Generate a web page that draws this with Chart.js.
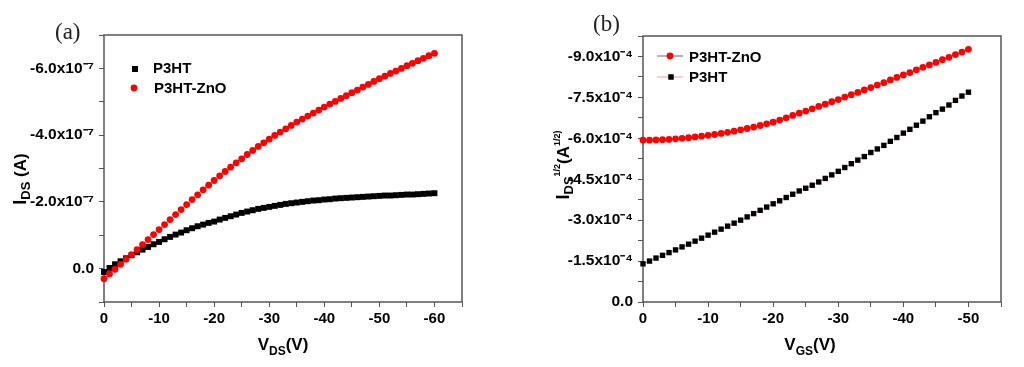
<!DOCTYPE html>
<html>
<head>
<meta charset="utf-8">
<script src="https://cdn.jsdelivr.net/npm/chart.js@4.4.1/dist/chart.umd.min.js"></script>
<style>
  body { margin: 0; background: #fff; }
  #wrap { position: relative; width: 1024px; height: 367px; background: #fff; }
  canvas { position: absolute; top: 0; }
</style>
</head>
<body>
<div id="wrap">
  <canvas id="chartA" width="512" height="367" style="left:0"></canvas>
  <canvas id="chartB" width="512" height="367" style="left:512px"></canvas>
</div>
<script>
// (a) output curves, V_DS in volts, I_DS in units of 1e-7 A
const vds = [0, -1, -2, -3, -4, -5, -6, -7, -8, -9, -10, -11, -12, -13, -14, -15, -16, -17, -18, -19, -20,
  -21, -22, -23, -24, -25, -26, -27, -28, -29, -30, -31, -32, -33, -34, -35, -36, -37, -38, -39, -40,
  -41, -42, -43, -44, -45, -46, -47, -48, -49, -50, -51, -52, -53, -54, -55, -56, -57, -58, -59, -60];
const idsP3HT = [0.10, -0.02, -0.13, -0.22, -0.31, -0.40, -0.49, -0.57, -0.65, -0.73, -0.80,
  -0.88, -0.95, -1.02, -1.08, -1.15, -1.21, -1.27, -1.32, -1.37, -1.41,
  -1.47, -1.52, -1.57, -1.62, -1.67, -1.71, -1.75, -1.79, -1.82, -1.85,
  -1.88, -1.91, -1.94, -1.96, -1.98, -2.00, -2.02, -2.04, -2.05, -2.07,
  -2.08, -2.10, -2.11, -2.12, -2.13, -2.14, -2.15, -2.16, -2.17, -2.18,
  -2.19, -2.19, -2.20, -2.21, -2.22, -2.22, -2.23, -2.24, -2.25, -2.26];
const idsZnO = [0.30, 0.16, 0.02, -0.13, -0.28, -0.42, -0.57, -0.72, -0.87, -1.02, -1.17,
  -1.32, -1.47, -1.62, -1.77, -1.92, -2.07, -2.21, -2.36, -2.50, -2.64,
  -2.78, -2.91, -3.04, -3.17, -3.29, -3.42, -3.54, -3.66, -3.77, -3.88,
  -3.99, -4.09, -4.19, -4.29, -4.39, -4.48, -4.57, -4.66, -4.75, -4.84,
  -4.93, -5.01, -5.10, -5.18, -5.27, -5.35, -5.44, -5.52, -5.61, -5.69,
  -5.77, -5.85, -5.92, -6.00, -6.08, -6.15, -6.23, -6.30, -6.38, -6.45];

// (b) transfer curves, V_GS in volts, sqrt(I_DS) in units of 1e-4
const vgs = [0, -1, -2, -3, -4, -5, -6, -7, -8, -9, -10, -11, -12, -13, -14, -15, -16, -17, -18, -19, -20,
  -21, -22, -23, -24, -25, -26, -27, -28, -29, -30, -31, -32, -33, -34, -35, -36, -37, -38, -39, -40,
  -41, -42, -43, -44, -45, -46, -47, -48, -49, -50];
const sqrtZnO = [-5.93, -5.93, -5.94, -5.95, -5.96, -5.98, -6.00, -6.02, -6.05, -6.08, -6.11,
  -6.14, -6.18, -6.22, -6.26, -6.31, -6.36, -6.41, -6.47, -6.53, -6.59,
  -6.67, -6.75, -6.84, -6.92, -7.00, -7.08, -7.17, -7.25, -7.34, -7.42,
  -7.51, -7.60, -7.68, -7.77, -7.86, -7.95, -8.04, -8.14, -8.23, -8.32,
  -8.41, -8.51, -8.60, -8.69, -8.78, -8.88, -8.97, -9.07, -9.16, -9.26];
const sqrtP3HT = [-1.40, -1.50, -1.61, -1.71, -1.81, -1.91, -2.02, -2.12, -2.23, -2.34, -2.45,
  -2.56, -2.67, -2.78, -2.89, -3.00, -3.12, -3.24, -3.36, -3.48, -3.60,
  -3.71, -3.83, -3.95, -4.07, -4.17, -4.28, -4.40, -4.53, -4.66, -4.79,
  -4.93, -5.07, -5.20, -5.33, -5.48, -5.61, -5.74, -5.89, -6.03, -6.19,
  -6.33, -6.48, -6.63, -6.79, -6.94, -7.07, -7.22, -7.39, -7.55, -7.69];

const FONT = '"Liberation Sans", Arial, Helvetica, sans-serif';
const AXIS = '#555555';

function pts(xs, ys) {
  return xs.map((x, i) => ({ x: x, y: ys[i] }));
}

// text with sub/superscripts, parts = [text, size, dy]
function drawParts(ctx, parts, x, y, angle) {
  ctx.save();
  ctx.translate(x, y);
  ctx.rotate(angle);
  ctx.fillStyle = '#000';
  ctx.textBaseline = 'alphabetic';
  let total = 0;
  parts.forEach(p => {
    ctx.font = 'bold ' + p[1] + 'px ' + FONT;
    total += ctx.measureText(p[0]).width;
  });
  let cx = -total / 2;
  parts.forEach(p => {
    ctx.font = 'bold ' + p[1] + 'px ' + FONT;
    ctx.fillText(p[0], cx, p[2]);
    cx += ctx.measureText(p[0]).width;
  });
  ctx.restore();
}

function square(ctx, x, y, side, color) {
  ctx.fillStyle = color;
  ctx.fillRect(x - side / 2, y - side / 2, side, side);
}

function dot(ctx, x, y, r, color) {
  ctx.fillStyle = color;
  ctx.beginPath();
  ctx.arc(x, y, r, 0, Math.PI * 2);
  ctx.fill();
}

// box round the plot, drawn under the points
const frame = {
  id: 'frame',
  beforeDatasetsDraw(chart) {
    const a = chart.chartArea;
    const ctx = chart.ctx;
    ctx.save();
    ctx.strokeStyle = AXIS;
    ctx.lineWidth = 1.5;
    ctx.strokeRect(a.left, a.top, a.right - a.left, a.bottom - a.top);
    ctx.restore();
  }
};

function xScale(max) {
  return {
    type: 'linear', min: max, max: 0, reverse: true,
    afterFit: s => { s.height = 65; },
    ticks: {
      stepSize: 5, autoSkip: false, maxRotation: 0, padding: 3, color: '#000',
      font: { family: FONT, size: 15, weight: 'bold' },
      callback: v => (v % 10 === 0 ? String(v) : '')
    },
    grid: { display: true, drawOnChartArea: false, drawTicks: true, tickLength: 5, color: AXIS, lineWidth: 1 },
    border: { display: false }
  };
}

function yScale(min, max, step, width, exp) {
  return {
    type: 'linear', min: min, max: max, reverse: true,
    afterFit: s => { s.width = width; },
    ticks: {
      stepSize: step, autoSkip: false, padding: 5, color: '#000',
      font: { family: FONT, size: 15.5, weight: 'bold' },
      callback: v => {
        const n = Math.round(v / step);
        if (n % 2 !== 0) return '';
        if (n === 0) return '0.0';
        return (n * step).toFixed(1) + 'x10' + exp;
      }
    },
    grid: { display: true, drawOnChartArea: false, drawTicks: true, tickLength: 5, color: AXIS, lineWidth: 1 },
    border: { display: false }
  };
}

const decoA = {
  id: 'decoA',
  afterDraw(chart) {
    const ctx = chart.ctx;
    ctx.save();
    ctx.fillStyle = '#222';
    ctx.font = '23px "Liberation Serif", "DejaVu Serif", serif';
    ctx.textBaseline = 'alphabetic';
    ctx.fillText('(a)', 55, 39);
    drawParts(ctx, [['V', 17, 0], ['DS', 12, 5], ['(V)', 17, 0]], 283, 350, 0);
    drawParts(ctx, [['I', 18, 0], ['DS', 13, 4], [' (A)', 17, 0]], 26, 179, -Math.PI / 2);
    // legend
    square(ctx, 135, 69, 6, '#000');
    dot(ctx, 134, 88, 3.4, '#ff0000');
    ctx.fillStyle = '#000';
    ctx.font = 'bold 15px ' + FONT;
    ctx.fillText('P3HT', 153, 72.5);
    ctx.fillText('P3HT-ZnO', 154, 92.5);
    ctx.restore();
  }
};

const decoB = {
  id: 'decoB',
  afterDraw(chart) {
    const ctx = chart.ctx;
    ctx.save();
    ctx.fillStyle = '#222';
    ctx.font = '23px "Liberation Serif", "DejaVu Serif", serif';
    ctx.textBaseline = 'alphabetic';
    ctx.fillText('(b)', 81, 31);
    drawParts(ctx, [['V', 17, 0], ['GS', 12, 5], ['(V)', 17, 0]], 298, 350, 0);
    drawParts(ctx, [['I', 18, 0], ['DS', 13, 4], ['1/2', 9, -9], ['(A', 17, 0], ['1/2)', 9, -9]], 57, 165, -Math.PI / 2);
    // legend
    ctx.lineWidth = 1;
    ctx.strokeStyle = '#666666';
    ctx.beginPath(); ctx.moveTo(145, 56); ctx.lineTo(171, 56); ctx.stroke();
    dot(ctx, 158, 56, 3.4, '#ff0000');
    ctx.strokeStyle = '#f4a0a0';
    ctx.beginPath(); ctx.moveTo(145, 77); ctx.lineTo(171, 77); ctx.stroke();
    square(ctx, 159, 77, 5.5, '#000');
    ctx.fillStyle = '#000';
    ctx.font = 'bold 15px ' + FONT;
    ctx.fillText('P3HT-ZnO', 177, 61.5);
    ctx.fillText('P3HT', 177, 82);
    ctx.restore();
  }
};

new Chart(document.getElementById('chartA'), {
  type: 'scatter',
  data: {
    datasets: [
      {
        label: 'P3HT-ZnO', data: pts(vds, idsZnO), showLine: false, clip: false,
        pointStyle: 'circle', pointRadius: 3.4, pointBorderWidth: 0,
        backgroundColor: '#ff0000', borderColor: '#ff0000'
      },
      {
        label: 'P3HT', data: pts(vds, idsP3HT), showLine: false, clip: false,
        pointStyle: 'rect', pointRadius: 4.2, pointBorderWidth: 0,
        backgroundColor: '#000', borderColor: '#000'
      }
    ]
  },
  options: {
    responsive: false, animation: false,
    layout: { padding: { left: 0, right: 50, top: 35, bottom: 0 } },
    plugins: { legend: { display: false }, tooltip: { enabled: false } },
    scales: {
      x: xScale(-65),
      y: yScale(-7, 1, 1, 104, '\u207B\u2077')
    }
  },
  plugins: [frame, decoA]
});

new Chart(document.getElementById('chartB'), {
  type: 'scatter',
  data: {
    datasets: [
      {
        label: 'P3HT-ZnO', data: pts(vgs, sqrtZnO), showLine: true, clip: false,
        borderColor: '#666666', borderWidth: 1, tension: 0,
        pointStyle: 'circle', pointRadius: 3.4, pointBorderWidth: 0,
        pointBackgroundColor: '#ff0000', backgroundColor: '#ff0000'
      },
      {
        label: 'P3HT', data: pts(vgs, sqrtP3HT), showLine: true, clip: false,
        borderColor: '#f4a0a0', borderWidth: 1, tension: 0,
        pointStyle: 'rect', pointRadius: 3.8, pointBorderWidth: 0,
        pointBackgroundColor: '#000', backgroundColor: '#000'
      }
    ]
  },
  options: {
    responsive: false, animation: false,
    layout: { padding: { left: 0, right: 23, top: 36, bottom: 0 } },
    plugins: { legend: { display: false }, tooltip: { enabled: false } },
    scales: {
      x: xScale(-55),
      y: yScale(-9.75, 0, 0.75, 131, '\u207B\u2074')
    }
  },
  plugins: [frame, decoB]
});
</script>
</body>
</html>
